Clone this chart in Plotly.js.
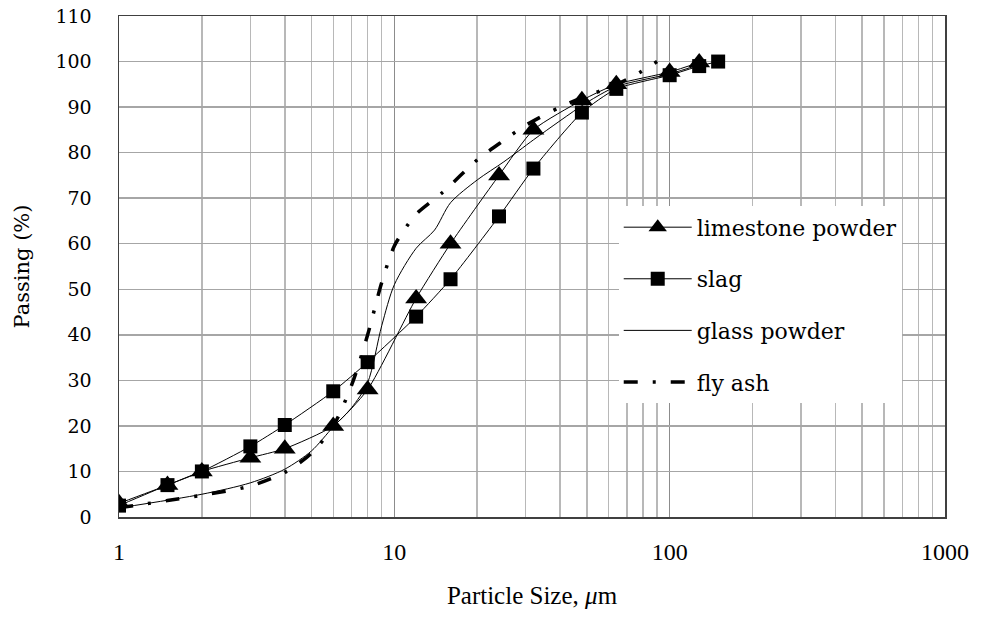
<!DOCTYPE html>
<html>
<head>
<meta charset="utf-8">
<script src="https://cdn.plot.ly/plotly-3.0.1.min.js"></script>
<style>body{margin:0;background:#fff}#chart{width:986px;height:628px}</style>
</head>
<body>
<div id="chart"></div>
<script>
// Particle sizes (µm) and percent passing
const limestoneSize = [1, 1.5, 2, 3, 4, 6, 8, 12, 16, 24, 32, 48, 64, 100, 128];
const limestonePassing = [3, 7, 10, 13, 15, 20, 28, 48, 60, 75, 85, 91.5, 95, 97.7, 99.8];

const slagSize = [1, 1.5, 2, 3, 4, 6, 8, 12, 16, 24, 32, 48, 64, 100, 128, 150];
const slagPassing = [2.5, 7, 10, 15.5, 20.2, 27.6, 34, 44, 52.2, 66, 76.5, 88.8, 94, 97, 99, 100];

const glassSize = [1, 2, 3, 4, 5, 6, 7, 8, 9, 10, 12, 14, 16, 20, 25, 32, 40, 50, 64, 100, 128];
const glassPassing = [2, 5, 7.5, 10.5, 14.5, 19.8, 24, 29.5, 42, 51, 59, 63, 69, 74, 78, 82.8, 87, 91, 94.5, 97.3, 99.3];

const flyAshSize = [1, 1.5, 2, 3, 4, 5, 6, 7, 8, 9, 10, 11, 12, 15, 20, 25, 30, 40, 50, 60, 75, 90];
const flyAshPassing = [2, 3.6, 4.8, 6.8, 9.8, 14, 20, 29, 40, 51.5, 59.5, 63.5, 66.5, 71.3, 78.4, 82.7, 86, 90, 92.5, 94.2, 97, 100];

const seriesNames = ["limestone powder", "slag", "glass powder", "fly ash"];
const xTickVals = [1, 10, 100, 1000];
const xTickText = ["1", "10", "100", "1000"];
const yTickVals = [0, 10, 20, 30, 40, 50, 60, 70, 80, 90, 100, 110];

const traces = [
  {
    x: limestoneSize, y: limestonePassing, name: seriesNames[0], legendgroup: "a",
    mode: "lines+markers", type: "scatter",
    line: {color: "#000", width: 1, shape: "spline", smoothing: 0.6},
    marker: {symbol: "triangle-up", size: 19, color: "#000"}
  },
  {
    x: slagSize, y: slagPassing, name: seriesNames[1], legendgroup: "b",
    mode: "lines+markers", type: "scatter",
    line: {color: "#000", width: 1, shape: "spline", smoothing: 0.6},
    marker: {symbol: "square", size: 14, color: "#000"}
  },
  {
    x: glassSize, y: glassPassing, name: seriesNames[2], legendgroup: "c",
    mode: "lines", type: "scatter",
    line: {color: "#000", width: 1, shape: "spline", smoothing: 0.8}
  },
  {
    x: flyAshSize, y: flyAshPassing, name: seriesNames[3], legendgroup: "d",
    mode: "lines", type: "scatter",
    line: {color: "#000", width: 3.5, shape: "spline", smoothing: 0.8, dash: "14px,15px,3px,15px"}
  }
];

const layout = {
  width: 986, height: 628, autosize: false,
  margin: {l: 119, r: 41, t: 16, b: 111},
  paper_bgcolor: "#fff", plot_bgcolor: "#fff",
  showlegend: true,
  legend: {
    x: 0.605, y: 0.62, xanchor: "left", yanchor: "top",
    bgcolor: "#fff", borderwidth: 0,
    font: {family: "DejaVu Serif", size: 22, color: "#000"},
    traceorder: "grouped", tracegroupgap: 20, itemwidth: 68
  },
  xaxis: {
    type: "log", range: [0, 3],
    tickvals: xTickVals, ticktext: xTickText,
    ticks: "", ticklabelstandoff: 13,
    tickfont: {family: "Liberation Serif", size: 24, color: "#000"},
    showgrid: true, gridcolor: "#8c8c8c", gridwidth: 1.5,
    minor: {dtick: "D1", showgrid: true, gridcolor: "#b8b8b8", gridwidth: 1.5, ticks: ""},
    showline: true, linecolor: "#404040", linewidth: 1.5, mirror: true,
    zeroline: false,
    title: {text: "Particle Size, <i>μ</i>m", standoff: 22,
      font: {family: "Liberation Serif", size: 25, color: "#000"}}
  },
  yaxis: {
    range: [0, 110], tickvals: yTickVals,
    ticks: "", ticklabelstandoff: 22,
    tickfont: {family: "DejaVu Serif", size: 19, color: "#000"},
    showgrid: true, gridcolor: "#a6a6a6", gridwidth: 1.5,
    showline: true, linecolor: "#404040", linewidth: 1.5, mirror: true,
    zeroline: false,
    title: {text: "Passing (%)", standoff: 20,
      font: {family: "DejaVu Serif", size: 21, color: "#000"}}
  }
};

Plotly.newPlot("chart", traces, layout, {staticPlot: true, displayModeBar: false});
</script>
</body>
</html>
